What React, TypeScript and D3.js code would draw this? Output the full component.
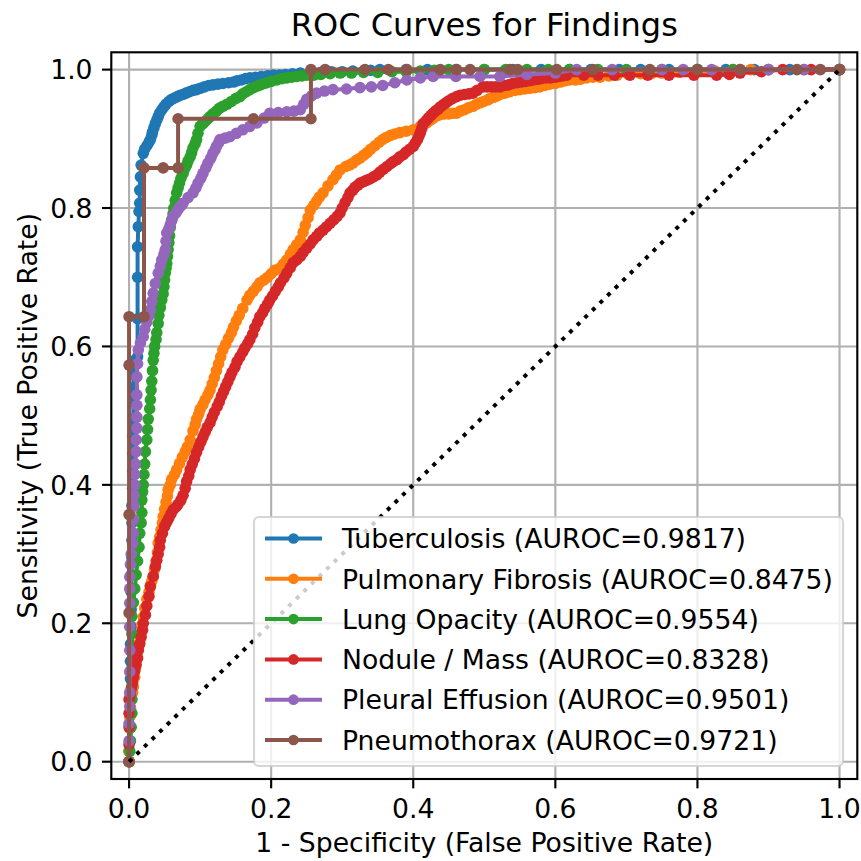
import React from "react";
import * as d3 from "d3";

type Pt = [number, number];

const seriesNames = [
  "Tuberculosis (AUROC=0.9817)",
  "Pulmonary Fibrosis (AUROC=0.8475)",
  "Lung Opacity (AUROC=0.9554)",
  "Nodule / Mass (AUROC=0.8328)",
  "Pleural Effusion (AUROC=0.9501)",
  "Pneumothorax (AUROC=0.9721)",
];
const seriesColors = ["#1f77b4", "#ff7f0e", "#2ca02c", "#d62728", "#9467bd", "#8c564b"];

const tuberculosis: Pt[] = [
  [0,0],[0,0.015],[0.001,0.03],[0.001,0.05],[0.001,0.07],[0.002,0.095],[0.002,0.12],[0.002,0.145],[0.002,0.17],[0.003,0.195],[0.003,0.22],[0.003,0.245],[0.003,0.27],[0.004,0.295],[0.004,0.32],[0.004,0.345],[0.004,0.37],[0.005,0.395],[0.005,0.42],[0.005,0.445],[0.005,0.47],[0.006,0.495],[0.006,0.52],[0.006,0.54],[0.006,0.56],[0.008,0.58],[0.012,0.585],[0.012,0.64],[0.012,0.70],[0.012,0.744],[0.013,0.773],[0.014,0.795],[0.015,0.807],[0.015,0.826],[0.016,0.845],[0.017,0.862],[0.02,0.879],[0.022,0.885],[0.025,0.89],[0.028,0.895],[0.03,0.899],[0.032,0.905],[0.033,0.91],[0.035,0.916],[0.037,0.922],[0.039,0.927],[0.041,0.932],[0.043,0.937],[0.046,0.942],[0.049,0.946],[0.052,0.95],[0.056,0.954],[0.06,0.957],[0.064,0.959],[0.068,0.961],[0.072,0.963],[0.076,0.964],[0.08,0.966],[0.085,0.968],[0.09,0.97],[0.095,0.971],[0.1,0.973],[0.106,0.975],[0.112,0.977],[0.118,0.978],[0.125,0.979],[0.132,0.98],[0.14,0.981],[0.147,0.982],[0.152,0.984],[0.158,0.985],[0.164,0.987],[0.17,0.988],[0.178,0.989],[0.186,0.99],[0.195,0.991],[0.203,0.992],[0.212,0.992],[0.22,0.993],[0.23,0.994],[0.241,0.995],[0.255,0.995],[0.27,0.996],[0.285,0.997],[0.3,0.997],[0.315,0.998],[0.33,0.998],[0.34,0.999],[0.353,1.0],[0.39,1],[0.42,1.0],[0.46,1],[0.5,1.0],[0.54,1],[0.58,1.0],[0.62,1],[0.65,1.0],[0.69,1],[0.72,1.0],[0.76,1],[0.8,1.0],[0.84,1],[0.88,1.0],[0.93,1.0],[1,1],
];
const pulmonaryFibrosis: Pt[] = [
  [0,0],[0,0.015],[0.001,0.03],[0.001,0.048],[0.001,0.065],[0.002,0.078],[0.003,0.09],[0.005,0.1],[0.006,0.108],[0.008,0.122],[0.009,0.135],[0.011,0.148],[0.013,0.161],[0.015,0.173],[0.016,0.185],[0.018,0.197],[0.02,0.209],[0.022,0.222],[0.025,0.235],[0.028,0.245],[0.03,0.255],[0.032,0.261],[0.034,0.267],[0.036,0.278],[0.038,0.29],[0.04,0.303],[0.041,0.316],[0.043,0.325],[0.045,0.335],[0.047,0.345],[0.048,0.354],[0.05,0.365],[0.052,0.375],[0.054,0.384],[0.055,0.393],[0.058,0.4],[0.06,0.408],[0.064,0.415],[0.067,0.422],[0.071,0.431],[0.075,0.44],[0.079,0.448],[0.082,0.455],[0.086,0.465],[0.09,0.478],[0.093,0.487],[0.095,0.495],[0.098,0.502],[0.1,0.509],[0.104,0.516],[0.107,0.523],[0.111,0.53],[0.114,0.537],[0.117,0.546],[0.12,0.555],[0.123,0.565],[0.126,0.575],[0.129,0.585],[0.132,0.595],[0.136,0.603],[0.14,0.612],[0.144,0.62],[0.147,0.628],[0.151,0.637],[0.155,0.645],[0.16,0.655],[0.166,0.667],[0.17,0.674],[0.175,0.68],[0.18,0.686],[0.184,0.692],[0.19,0.696],[0.195,0.7],[0.2,0.705],[0.205,0.71],[0.212,0.713],[0.217,0.719],[0.222,0.725],[0.227,0.733],[0.231,0.74],[0.236,0.747],[0.241,0.754],[0.245,0.765],[0.248,0.775],[0.252,0.786],[0.255,0.797],[0.26,0.804],[0.264,0.81],[0.268,0.816],[0.273,0.822],[0.28,0.832],[0.287,0.841],[0.292,0.848],[0.297,0.855],[0.305,0.86],[0.31,0.862],[0.315,0.865],[0.32,0.869],[0.325,0.872],[0.33,0.876],[0.335,0.88],[0.34,0.885],[0.346,0.89],[0.352,0.895],[0.357,0.899],[0.362,0.902],[0.368,0.905],[0.374,0.907],[0.381,0.909],[0.39,0.911],[0.4,0.913],[0.41,0.918],[0.419,0.923],[0.424,0.927],[0.428,0.93],[0.433,0.933],[0.438,0.935],[0.444,0.936],[0.45,0.936],[0.456,0.937],[0.461,0.937],[0.466,0.94],[0.472,0.942],[0.478,0.945],[0.484,0.947],[0.489,0.95],[0.494,0.952],[0.499,0.954],[0.504,0.956],[0.508,0.958],[0.513,0.96],[0.518,0.962],[0.522,0.964],[0.529,0.966],[0.536,0.968],[0.543,0.97],[0.55,0.971],[0.557,0.972],[0.564,0.973],[0.571,0.974],[0.578,0.975],[0.585,0.977],[0.592,0.979],[0.6,0.98],[0.607,0.982],[0.614,0.984],[0.62,0.985],[0.628,0.985],[0.635,0.986],[0.644,0.988],[0.653,0.989],[0.663,0.989],[0.675,0.991],[0.687,0.992],[0.703,0.993],[0.72,0.994],[0.735,0.994],[0.75,0.995],[0.775,0.996],[0.8,0.997],[0.825,0.998],[0.85,1.0],[0.875,1],[0.9,1.0],[0.95,1],[1,1],
];
const lungOpacity: Pt[] = [
  [0,0],[0.001,0.015],[0.002,0.03],[0.003,0.05],[0.004,0.07],[0.004,0.09],[0.004,0.11],[0.004,0.135],[0.004,0.16],[0.004,0.185],[0.004,0.21],[0.006,0.23],[0.008,0.25],[0.01,0.27],[0.012,0.29],[0.014,0.31],[0.015,0.33],[0.017,0.345],[0.018,0.36],[0.018,0.378],[0.019,0.39],[0.02,0.4],[0.021,0.415],[0.022,0.43],[0.023,0.448],[0.025,0.465],[0.026,0.48],[0.027,0.495],[0.029,0.51],[0.03,0.523],[0.031,0.537],[0.032,0.55],[0.033,0.565],[0.034,0.58],[0.035,0.59],[0.036,0.6],[0.038,0.61],[0.039,0.62],[0.041,0.633],[0.042,0.645],[0.044,0.656],[0.046,0.667],[0.048,0.676],[0.049,0.686],[0.05,0.696],[0.051,0.706],[0.052,0.713],[0.053,0.72],[0.054,0.73],[0.055,0.74],[0.056,0.75],[0.057,0.76],[0.058,0.772],[0.06,0.783],[0.062,0.792],[0.063,0.8],[0.065,0.811],[0.067,0.822],[0.069,0.829],[0.071,0.836],[0.073,0.843],[0.076,0.85],[0.078,0.856],[0.081,0.862],[0.083,0.868],[0.086,0.874],[0.088,0.88],[0.09,0.887],[0.093,0.893],[0.095,0.899],[0.097,0.908],[0.1,0.918],[0.104,0.922],[0.107,0.925],[0.111,0.929],[0.114,0.932],[0.118,0.936],[0.123,0.94],[0.127,0.944],[0.132,0.947],[0.138,0.95],[0.144,0.954],[0.15,0.958],[0.156,0.961],[0.16,0.965],[0.165,0.968],[0.17,0.971],[0.175,0.974],[0.18,0.976],[0.185,0.978],[0.19,0.98],[0.194,0.981],[0.2,0.983],[0.208,0.985],[0.215,0.987],[0.222,0.988],[0.229,0.989],[0.236,0.99],[0.243,0.991],[0.25,0.992],[0.26,0.992],[0.27,0.993],[0.283,0.994],[0.297,0.995],[0.313,0.995],[0.33,0.996],[0.35,0.996],[0.37,0.997],[0.39,0.997],[0.41,0.998],[0.43,0.999],[0.45,1.0],[0.5,1.0],[0.53,1],[0.56,1.0],[0.59,1],[0.62,1.0],[0.66,1],[0.7,1.0],[0.75,1],[0.8,1.0],[0.85,1],[0.9,1.0],[1,1],
];
const noduleMass: Pt[] = [
  [0,0],[0,0.025],[0,0.05],[0,0.07],[0,0.09],[0.002,0.098],[0.003,0.105],[0.005,0.114],[0.006,0.122],[0.008,0.131],[0.01,0.14],[0.012,0.15],[0.013,0.161],[0.015,0.17],[0.017,0.18],[0.019,0.19],[0.02,0.2],[0.023,0.212],[0.025,0.225],[0.028,0.239],[0.03,0.253],[0.034,0.268],[0.037,0.282],[0.039,0.291],[0.041,0.3],[0.043,0.31],[0.044,0.32],[0.047,0.33],[0.05,0.34],[0.053,0.346],[0.056,0.352],[0.059,0.358],[0.062,0.364],[0.066,0.368],[0.069,0.372],[0.073,0.378],[0.076,0.385],[0.079,0.395],[0.081,0.405],[0.084,0.413],[0.086,0.422],[0.089,0.43],[0.092,0.438],[0.095,0.447],[0.098,0.455],[0.101,0.462],[0.104,0.469],[0.107,0.476],[0.11,0.483],[0.114,0.49],[0.117,0.498],[0.12,0.505],[0.124,0.513],[0.127,0.52],[0.13,0.528],[0.133,0.535],[0.136,0.542],[0.139,0.549],[0.142,0.556],[0.145,0.563],[0.149,0.57],[0.152,0.578],[0.156,0.585],[0.16,0.592],[0.163,0.598],[0.167,0.604],[0.17,0.61],[0.174,0.618],[0.177,0.627],[0.181,0.635],[0.184,0.643],[0.188,0.649],[0.191,0.655],[0.195,0.661],[0.198,0.667],[0.202,0.673],[0.206,0.68],[0.21,0.686],[0.213,0.692],[0.218,0.699],[0.222,0.706],[0.227,0.714],[0.231,0.721],[0.236,0.725],[0.241,0.73],[0.245,0.736],[0.25,0.742],[0.255,0.748],[0.259,0.754],[0.264,0.759],[0.268,0.764],[0.273,0.768],[0.278,0.773],[0.283,0.778],[0.288,0.783],[0.293,0.788],[0.297,0.793],[0.3,0.8],[0.304,0.808],[0.308,0.815],[0.311,0.822],[0.315,0.826],[0.318,0.83],[0.322,0.833],[0.325,0.836],[0.33,0.838],[0.334,0.84],[0.339,0.842],[0.344,0.845],[0.349,0.848],[0.353,0.852],[0.358,0.856],[0.363,0.86],[0.368,0.864],[0.372,0.867],[0.377,0.87],[0.381,0.874],[0.386,0.877],[0.39,0.881],[0.395,0.885],[0.4,0.889],[0.403,0.894],[0.406,0.899],[0.408,0.904],[0.41,0.909],[0.412,0.915],[0.414,0.922],[0.418,0.926],[0.421,0.93],[0.425,0.934],[0.428,0.937],[0.431,0.94],[0.435,0.943],[0.438,0.946],[0.442,0.949],[0.446,0.952],[0.45,0.955],[0.455,0.958],[0.461,0.961],[0.466,0.963],[0.472,0.964],[0.478,0.965],[0.484,0.966],[0.49,0.97],[0.498,0.975],[0.504,0.975],[0.51,0.975],[0.516,0.975],[0.522,0.975],[0.528,0.977],[0.534,0.978],[0.54,0.98],[0.546,0.981],[0.552,0.982],[0.558,0.983],[0.564,0.984],[0.569,0.985],[0.575,0.986],[0.58,0.987],[0.587,0.988],[0.593,0.988],[0.6,0.989],[0.605,0.99],[0.61,0.991],[0.616,0.992],[0.64,0.992],[0.66,0.992],[0.683,0.992],[0.705,0.992],[0.73,0.992],[0.76,0.992],[0.795,0.992],[0.827,0.992],[0.845,0.993],[0.86,0.995],[0.89,0.997],[0.92,1.0],[0.96,1],[1,1],
];
const pleuralEffusion: Pt[] = [
  [0,0],[0,0.03],[0,0.055],[0.001,0.08],[0.001,0.1],[0.001,0.13],[0.001,0.161],[0.001,0.195],[0.001,0.229],[0.001,0.25],[0.001,0.267],[0.002,0.285],[0.003,0.3],[0.005,0.315],[0.006,0.33],[0.006,0.35],[0.007,0.37],[0.007,0.385],[0.008,0.4],[0.008,0.415],[0.009,0.43],[0.01,0.448],[0.01,0.465],[0.011,0.482],[0.011,0.498],[0.011,0.515],[0.011,0.53],[0.011,0.556],[0.012,0.575],[0.013,0.595],[0.016,0.605],[0.02,0.614],[0.022,0.625],[0.025,0.635],[0.028,0.644],[0.03,0.653],[0.032,0.665],[0.034,0.677],[0.037,0.691],[0.041,0.706],[0.044,0.716],[0.046,0.725],[0.049,0.733],[0.051,0.74],[0.052,0.752],[0.053,0.764],[0.056,0.77],[0.058,0.776],[0.06,0.782],[0.062,0.788],[0.066,0.793],[0.069,0.798],[0.073,0.803],[0.076,0.807],[0.083,0.815],[0.09,0.822],[0.094,0.829],[0.097,0.836],[0.101,0.843],[0.104,0.85],[0.108,0.858],[0.111,0.865],[0.115,0.872],[0.118,0.879],[0.121,0.884],[0.123,0.889],[0.126,0.894],[0.128,0.899],[0.135,0.901],[0.142,0.903],[0.151,0.908],[0.16,0.913],[0.17,0.918],[0.18,0.923],[0.19,0.93],[0.198,0.937],[0.21,0.938],[0.222,0.939],[0.232,0.94],[0.241,0.942],[0.246,0.95],[0.25,0.957],[0.257,0.962],[0.264,0.966],[0.275,0.969],[0.287,0.971],[0.306,0.972],[0.325,0.974],[0.341,0.975],[0.357,0.977],[0.374,0.981],[0.391,0.985],[0.41,0.988],[0.428,0.99],[0.46,0.99],[0.494,0.99],[0.522,0.99],[0.56,0.993],[0.6,0.995],[0.63,1.0],[0.68,1.0],[0.75,1.0],[0.78,1],[0.82,1.0],[0.86,1],[0.9,1.0],[0.95,1.0],[1,1],
];
const pneumothorax: Pt[] = [
  [0,0],[0,0.215],[0,0.357],[0,0.573],[0,0.643],[0.021,0.643],[0.021,0.858],[0.048,0.858],[0.069,0.858],[0.069,0.929],[0.175,0.929],[0.256,0.929],[0.256,1],[0.276,1],[0.332,1],[0.365,1],[0.391,1],[0.438,1],[0.461,1],[0.48,1],[0.536,1],[0.547,1],[0.602,1],[0.653,1],[0.733,1],[0.8,1],[0.86,1],[0.94,1],[0.973,1],[1,1],
];

const allSeries = [tuberculosis, pulmonaryFibrosis, lungOpacity, noduleMass, pleuralEffusion, pneumothorax];
const tickValues = [0, 0.2, 0.4, 0.6, 0.8, 1.0];
const diagonal: Pt[] = [[0, 0], [1, 1]];

const titleText = "ROC Curves for Findings";
const xLabel = "1 - Specificity (False Positive Rate)";
const yLabel = "Sensitivity (True Positive Rate)";

const FONT = "DejaVu Sans";

export default function App() {
  const W = 861, H = 861;
  const L = 111.3, R = 857.3, T = 52.3, B = 779;
  const x = d3.scaleLinear().domain([-0.025, 1.025]).range([L, R]);
  const y = d3.scaleLinear().domain([-0.025, 1.025]).range([B, T]);
  const line = d3.line<Pt>().x((d) => x(d[0])).y((d) => y(d[1]));
  const fmt = d3.format(".1f");
  const FS = 26.67;
  const MR = 5.8;
  const LW = 4;

  const legX = 254, legY = 517, legW = 589, legH = 249;
  const rowY0 = 538.5, rowDy = 40.3;

  return (
    <svg width={W} height={H} style={{ position: "absolute", left: 0, top: 0, background: "#fff" }} fontFamily={FONT}>
      <rect x={0} y={0} width={W} height={H} fill="#fff" />
      <defs>
        <clipPath id="plotclip">
          <rect x={L} y={T} width={R - L} height={B - T} />
        </clipPath>
      </defs>
      {tickValues.map((t) => (
        <g key={"g" + t}>
          <line x1={x(t)} x2={x(t)} y1={T} y2={B} stroke="#b0b0b0" strokeWidth={2.13} />
          <line x1={L} x2={R} y1={y(t)} y2={y(t)} stroke="#b0b0b0" strokeWidth={2.13} />
        </g>
      ))}
      <g clipPath="url(#plotclip)">
        {allSeries.map((s, i) => (
          <g key={"s" + i}>
            <path d={line(s) || ""} fill="none" stroke={seriesColors[i]} strokeWidth={LW} strokeLinejoin="round" strokeLinecap="square" />
            {s.map((p, j) => (
              <circle key={j} cx={x(p[0])} cy={y(p[1])} r={MR} fill={seriesColors[i]} />
            ))}
          </g>
        ))}
        <path d={line(diagonal) || ""} fill="none" stroke="#000" strokeWidth={4} strokeDasharray="4 6.6" />
      </g>
      <rect x={L} y={T} width={R - L} height={B - T} fill="none" stroke="#000" strokeWidth={2.13} />
      {tickValues.map((t) => (
        <g key={"t" + t}>
          <line x1={x(t)} x2={x(t)} y1={B} y2={B + 9.33} stroke="#000" strokeWidth={2.13} />
          <text x={x(t)} y={818} fontSize={FS} textAnchor="middle" fill="#000">{fmt(t)}</text>
          <line x1={L - 9.33} x2={L} y1={y(t)} y2={y(t)} stroke="#000" strokeWidth={2.13} />
          <text x={L - 18.7} y={y(t) + 9.7} fontSize={FS} textAnchor="end" fill="#000">{fmt(t)}</text>
        </g>
      ))}
      <text x={(L + R) / 2} y={852} fontSize={FS} textAnchor="middle" fill="#000">{xLabel}</text>
      <text transform={`translate(37, ${(T + B) / 2}) rotate(-90)`} fontSize={FS} textAnchor="middle" fill="#000">{yLabel}</text>
      <text x={(L + R) / 2} y={36} fontSize={32} textAnchor="middle" fill="#000">{titleText}</text>
      <rect x={legX} y={legY} width={legW} height={legH} rx={5} ry={5} fill="#fff" fillOpacity={0.8} stroke="#cccccc" strokeOpacity={0.8} strokeWidth={2.13} />
      {seriesNames.map((name, i) => {
        const cy = rowY0 + i * rowDy;
        return (
          <g key={"l" + i}>
            <line x1={265} x2={322} y1={cy} y2={cy} stroke={seriesColors[i]} strokeWidth={LW} />
            <circle cx={293.5} cy={cy} r={5.33} fill={seriesColors[i]} />
            <text x={342} y={cy + 9.7} fontSize={FS} fill="#000">{name}</text>
          </g>
        );
      })}
    </svg>
  );
}
